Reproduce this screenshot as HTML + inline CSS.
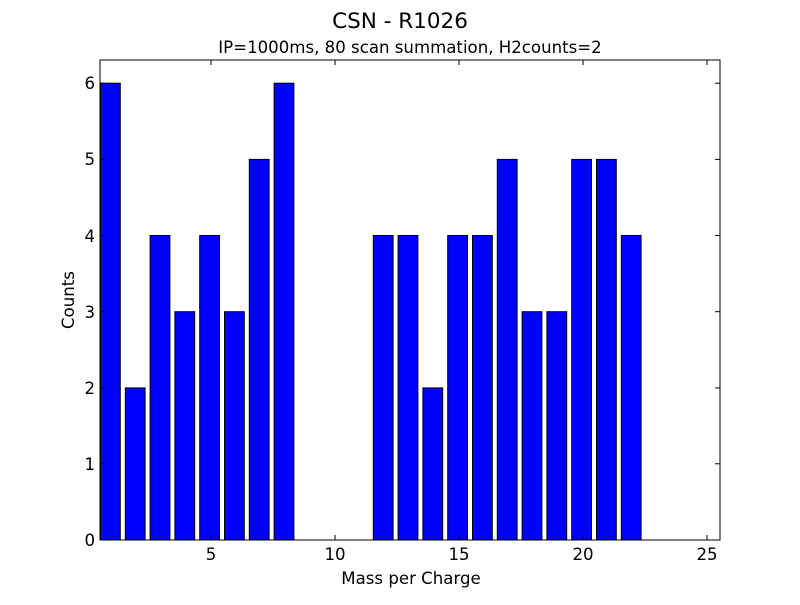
<!DOCTYPE html>
<html><head><style>body{margin:0;background:#fff}</style></head><body>
<svg width="800" height="600" xmlns="http://www.w3.org/2000/svg" font-family="DejaVu Sans, sans-serif">
<rect width="800" height="600" fill="#fff"/>
<text x="400" y="28" font-size="21.5" text-anchor="middle">CSN - R1026</text>
<text x="410" y="53" font-size="16.6" text-anchor="middle">IP=1000ms, 80 scan summation, H2counts=2</text>
<g fill="#0000ff" stroke="#000" stroke-width="1">
<rect x="100.5" y="83.2" width="19.8" height="456.8"/>
<rect x="125.3" y="387.9" width="19.8" height="152.1"/>
<rect x="150.1" y="235.5" width="19.8" height="304.5"/>
<rect x="174.9" y="311.7" width="19.8" height="228.3"/>
<rect x="199.7" y="235.5" width="19.8" height="304.5"/>
<rect x="224.5" y="311.7" width="19.8" height="228.3"/>
<rect x="249.3" y="159.4" width="19.8" height="380.6"/>
<rect x="274.1" y="83.2" width="19.8" height="456.8"/>
<rect x="373.3" y="235.5" width="19.8" height="304.5"/>
<rect x="398.1" y="235.5" width="19.8" height="304.5"/>
<rect x="422.9" y="387.9" width="19.8" height="152.1"/>
<rect x="447.7" y="235.5" width="19.8" height="304.5"/>
<rect x="472.5" y="235.5" width="19.8" height="304.5"/>
<rect x="497.3" y="159.4" width="19.8" height="380.6"/>
<rect x="522.1" y="311.7" width="19.8" height="228.3"/>
<rect x="546.9" y="311.7" width="19.8" height="228.3"/>
<rect x="571.7" y="159.4" width="19.8" height="380.6"/>
<rect x="596.5" y="159.4" width="19.8" height="380.6"/>
<rect x="621.3" y="235.5" width="19.8" height="304.5"/>
</g>
<rect x="100" y="60" width="620" height="480" fill="none" stroke="#000" stroke-width="1"/>
<g stroke="#000" stroke-width="1">
<line x1="211" y1="540" x2="211" y2="535"/><line x1="211" y1="60" x2="211" y2="65"/>
<line x1="335" y1="540" x2="335" y2="535"/><line x1="335" y1="60" x2="335" y2="65"/>
<line x1="459" y1="540" x2="459" y2="535"/><line x1="459" y1="60" x2="459" y2="65"/>
<line x1="583" y1="540" x2="583" y2="535"/><line x1="583" y1="60" x2="583" y2="65"/>
<line x1="707" y1="540" x2="707" y2="535"/><line x1="707" y1="60" x2="707" y2="65"/>
<line x1="100" y1="463.8" x2="105" y2="463.8"/><line x1="720" y1="463.8" x2="715" y2="463.8"/>
<line x1="100" y1="387.9" x2="105" y2="387.9"/><line x1="720" y1="387.9" x2="715" y2="387.9"/>
<line x1="100" y1="311.7" x2="105" y2="311.7"/><line x1="720" y1="311.7" x2="715" y2="311.7"/>
<line x1="100" y1="235.5" x2="105" y2="235.5"/><line x1="720" y1="235.5" x2="715" y2="235.5"/>
<line x1="100" y1="159.4" x2="105" y2="159.4"/><line x1="720" y1="159.4" x2="715" y2="159.4"/>
<line x1="100" y1="83.2" x2="105" y2="83.2"/><line x1="720" y1="83.2" x2="715" y2="83.2"/>
</g>
<g font-size="16.6" text-anchor="middle">
<text x="211" y="560">5</text><text x="335" y="560">10</text><text x="459" y="560">15</text><text x="583" y="560">20</text><text x="707" y="560">25</text>
</g>
<g font-size="16.6" text-anchor="end">
<text x="95" y="546">0</text><text x="95" y="470">1</text><text x="95" y="394">2</text><text x="95" y="318">3</text><text x="95" y="242">4</text><text x="95" y="165">5</text><text x="95" y="89">6</text>
</g>
<text x="411" y="584" font-size="16.6" text-anchor="middle">Mass per Charge</text>
<text x="74" y="300" font-size="16.6" text-anchor="middle" transform="rotate(-90 74 300)">Counts</text>
</svg>
</body></html>
